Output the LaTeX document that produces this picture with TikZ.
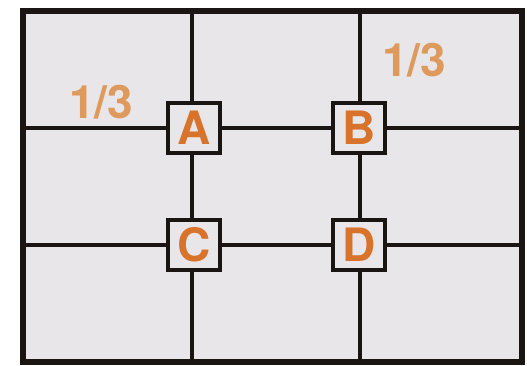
\documentclass[tikz,border=0pt]{standalone}
\usepackage{fontspec}
\setmainfont{TeX Gyre Heros}
\definecolor{bg}{HTML}{E8E6E9}
\definecolor{ln}{HTML}{1A1512}
\definecolor{org}{HTML}{D8732C}
\definecolor{lorg}{HTML}{DE9A5C}
\tikzset{
  gridline/.style={draw=ln, line width=3.6pt},
  ptbox/.style={draw=ln, fill=bg, line width=3.6pt, minimum width=52pt, minimum height=50pt, inner sep=0pt, text=org, font=\fontsize{46}{46}\selectfont\bfseries},
  third/.style={text=lorg, font=\fontsize{46}{46}\selectfont\bfseries, inner sep=0pt}
}
\begin{document}
\begin{tikzpicture}[x=1pt,y=-1pt]
\useasboundingbox (0,0) rectangle (527,365);
\fill[white] (0,0) rectangle (527,365);
\fill[bg] (23,11) rectangle (522,362);
% grid lines
\coordinate (t1) at (192,11); \coordinate (b1) at (192,362);
\coordinate (t2) at (360,11); \coordinate (b2) at (360,362);
\coordinate (l1) at (23,128); \coordinate (r1) at (522,128);
\coordinate (l2) at (23,245); \coordinate (r2) at (522,245);
\draw[gridline] (t1) -- (b1);
\draw[gridline] (t2) -- (b2);
\draw[gridline] (l1) -- (r1);
\draw[gridline] (l2) -- (r2);
\draw[draw=ln, line width=5.5pt] (23,11) rectangle (522,362);
% boxes
\node[ptbox] (A) at (194,128) {A};
\node[ptbox] (B) at (359,128) {B};
\node[ptbox] (C) at (194,245) {C};
\node[ptbox] (D) at (359,245) {D};
% labels
\node[third] (L1) at (101,102) {1/3};
\node[third] (L2) at (414,60) {1/3};
\end{tikzpicture}
\end{document}
